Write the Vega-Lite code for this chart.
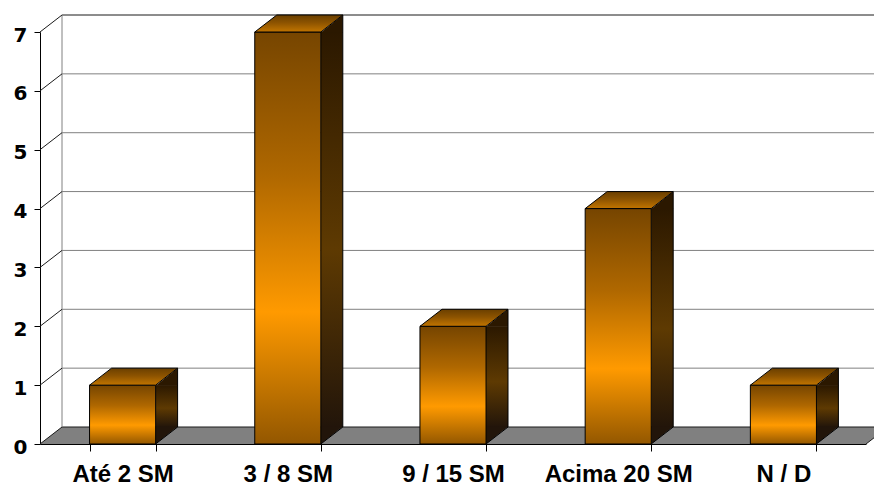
{
  "$schema": "https://vega.github.io/schema/vega-lite/v6.json",
  "width": 826,
  "height": 412,
  "autosize": {"type": "none"},
  "padding": {"left": 40, "top": 32, "right": 8, "bottom": 43},
  "background": "#ffffff",
  "config": {
    "view": {"stroke": null},
    "font": "Liberation Sans",
    "axisX": {
      "title": null, "labelAngle": 0, "domainColor": "#000000", "domainWidth": 1,
      "tickBand": "extent", "tickSize": 7, "tickColor": "#000000", "tickWidth": 1,
      "labelFont": "Liberation Sans", "labelFontWeight": "bold", "labelFontSize": 24,
      "labelColor": "#000000", "labelPadding": 11, "grid": false, "zindex": 1
    },
    "axisY": {
      "title": null, "tickCount": 7,
      "domainColor": "#000000", "domainWidth": 1, "tickColor": "#000000", "tickSize": 6,
      "labelFont": "DejaVu Sans", "labelFontWeight": "bold", "labelFontSize": 20,
      "labelColor": "#000000", "labelPadding": 7, "labelOffset": 3, "grid": false, "zindex": 1
    }
  },
  "datasets": {
    "bars": [
      {"faixa": "Até 2 SM", "n": 1},
      {"faixa": "3 / 8 SM", "n": 7},
      {"faixa": "9 / 15 SM", "n": 2},
      {"faixa": "Acima 20 SM", "n": 4},
      {"faixa": "N / D", "n": 1}
    ],
    "grid": [
      {"v": 0}, {"v": 1}, {"v": 2}, {"v": 3}, {"v": 4}, {"v": 5}, {"v": 6}, {"v": 7}
    ]
  },
  "layer": [
    {
      "data": {"name": "grid"},
      "transform": [{"filter": "datum.v === 0"}],
      "mark": {"type": "rect", "fill": "#808080", "xOffset": 22, "y2Offset": -17, "strokeWidth": 0},
      "encoding": {
        "x": {"value": 0},
        "x2": {"value": "width"},
        "y": {"field": "v", "type": "quantitative", "scale": {"domain": [0, 7], "nice": false}, "axis": {"title": null}},
        "y2": {"field": "v"}
      }
    },
    {
      "data": {"name": "grid"},
      "transform": [{"filter": "datum.v === 0"}],
      "mark": {"type": "point", "shape": "M 0 0 L 22 -17 L 22 0 Z", "size": 4, "filled": true, "fill": "#808080", "strokeWidth": 0, "opacity": 1},
      "encoding": {
        "x": {"value": 0},
        "y": {"field": "v", "type": "quantitative", "scale": {"domain": [0, 7], "nice": false}, "axis": {"title": null}}
      }
    },
    {
      "data": {"name": "grid"},
      "transform": [{"filter": "datum.v === 0"}],
      "mark": {"type": "point", "shape": "M 0 0 L 0 -17 L 22 -17 Z", "size": 4, "filled": true, "fill": "#808080", "strokeWidth": 0, "opacity": 1},
      "encoding": {
        "x": {"value": "width"},
        "y": {"field": "v", "type": "quantitative", "scale": {"domain": [0, 7], "nice": false}, "axis": {"title": null}}
      }
    },
    {
      "data": {"name": "grid"},
      "mark": {"type": "rule", "xOffset": 22, "x2Offset": 22, "yOffset": -17, "strokeWidth": 1},
      "encoding": {
        "x": {"value": 0},
        "x2": {"value": "width"},
        "y": {"field": "v", "type": "quantitative", "scale": {"domain": [0, 7], "nice": false}, "axis": {"title": null}},
        "color": {"condition": {"test": "datum.v === 0 || datum.v === 7", "value": "#1a1a1a"}, "value": "#808080"}
      }
    },
    {
      "data": {"name": "grid"},
      "transform": [{"filter": "datum.v === 0"}],
      "mark": {"type": "rule", "xOffset": 22, "yOffset": -17, "y2Offset": -17, "color": "#808080", "strokeWidth": 1},
      "encoding": {
        "x": {"value": 0},
        "y": {"datum": 0, "type": "quantitative", "scale": {"domain": [0, 7], "nice": false}, "axis": {"title": null}},
        "y2": {"datum": 7}
      }
    },
    {
      "data": {"name": "grid"},
      "mark": {"type": "point", "shape": "M 0 0 L 22 -17", "size": 4, "filled": false, "stroke": "#1a1a1a", "strokeWidth": 1, "opacity": 1},
      "encoding": {
        "x": {"value": 0},
        "y": {"field": "v", "type": "quantitative", "scale": {"domain": [0, 7], "nice": false}, "axis": {"title": null}}
      }
    },
    {
      "data": {"name": "grid"},
      "transform": [{"filter": "datum.v === 0"}],
      "mark": {"type": "point", "shape": "M 0 0 L 22 -17", "size": 4, "filled": false, "stroke": "#1a1a1a", "strokeWidth": 1, "opacity": 1},
      "encoding": {
        "x": {"value": "width"},
        "y": {"field": "v", "type": "quantitative", "scale": {"domain": [0, 7], "nice": false}, "axis": {"title": null}}
      }
    },
    {
      "data": {"name": "bars"},
      "mark": {
        "type": "bar", "width": 22, "xOffset": 44, "y2Offset": -17, "strokeWidth": 0,
        "fill": {"gradient": "linear", "x1": 0, "y1": 0, "x2": 0, "y2": 1,
          "stops": [{"offset": 0, "color": "#2b1800"}, {"offset": 0.55, "color": "#5e3a02"}, {"offset": 1, "color": "#22150a"}]}
      },
      "encoding": {
        "x": {"field": "faixa", "type": "nominal", "sort": null, "scale": {"type": "band", "paddingInner": 0.6, "paddingOuter": 0.3}, "axis": {"title": null}},
        "y": {"field": "n", "type": "quantitative", "scale": {"domain": [0, 7], "nice": false}, "axis": {"title": null}},
        "y2": {"datum": 0}
      }
    },
    {
      "data": {"name": "bars"},
      "mark": {"type": "point", "shape": "M 33 0.5 L 55 -17 L 55 0.5 Z", "size": 4, "filled": true, "fill": "#2b1800", "strokeWidth": 0, "opacity": 1},
      "encoding": {
        "x": {"field": "faixa", "type": "nominal", "sort": null, "scale": {"type": "band", "paddingInner": 0.6, "paddingOuter": 0.3}, "axis": {"title": null}},
        "y": {"field": "n", "type": "quantitative", "scale": {"domain": [0, 7], "nice": false}, "axis": {"title": null}}
      }
    },
    {
      "data": {"name": "bars"},
      "mark": {"type": "point", "shape": "M 33 -17.5 L 55 -17.5 L 33 0 Z", "size": 4, "filled": true, "fill": "#22150a", "strokeWidth": 0, "opacity": 1},
      "encoding": {
        "x": {"field": "faixa", "type": "nominal", "sort": null, "scale": {"type": "band", "paddingInner": 0.6, "paddingOuter": 0.3}, "axis": {"title": null}},
        "y": {"datum": 0, "type": "quantitative", "scale": {"domain": [0, 7], "nice": false}, "axis": {"title": null}}
      }
    },
    {
      "data": {"name": "bars"},
      "mark": {"type": "rule", "xOffset": 55, "yOffset": -17, "y2Offset": -17, "color": "#000000", "strokeWidth": 1},
      "encoding": {
        "x": {"field": "faixa", "type": "nominal", "sort": null, "scale": {"type": "band", "paddingInner": 0.6, "paddingOuter": 0.3}, "axis": {"title": null}},
        "y": {"field": "n", "type": "quantitative", "scale": {"domain": [0, 7], "nice": false}, "axis": {"title": null}},
        "y2": {"datum": 0}
      }
    },
    {
      "data": {"name": "bars"},
      "mark": {"type": "point", "shape": "M 33 0 L 55 -17", "size": 4, "filled": false, "stroke": "#000000", "strokeWidth": 1, "opacity": 1},
      "encoding": {
        "x": {"field": "faixa", "type": "nominal", "sort": null, "scale": {"type": "band", "paddingInner": 0.6, "paddingOuter": 0.3}, "axis": {"title": null}},
        "y": {"datum": 0, "type": "quantitative", "scale": {"domain": [0, 7], "nice": false}, "axis": {"title": null}}
      }
    },
    {
      "data": {"name": "bars"},
      "mark": {
        "type": "bar", "stroke": "#000000", "strokeWidth": 1,
        "fill": {"gradient": "linear", "x1": 0, "y1": 0, "x2": 0, "y2": 1,
          "stops": [{"offset": 0, "color": "#764500"}, {"offset": 0.35, "color": "#b06800"}, {"offset": 0.68, "color": "#ff9a00"}, {"offset": 1, "color": "#935700"}]}
      },
      "encoding": {
        "x": {"field": "faixa", "type": "nominal", "sort": null, "scale": {"type": "band", "paddingInner": 0.6, "paddingOuter": 0.3}, "axis": {"title": null}},
        "y": {"field": "n", "type": "quantitative", "scale": {"domain": [0, 7], "nice": false}, "axis": {"title": null}},
        "y2": {"datum": 0}
      }
    },
    {
      "data": {"name": "bars"},
      "mark": {
        "type": "point", "shape": "M -33 0 L 33 0 L 55 -17 L -11 -17 Z", "size": 4, "filled": true,
        "stroke": "#000000", "strokeWidth": 1, "opacity": 1,
        "fill": {"gradient": "linear", "x1": 0, "y1": 0, "x2": 0, "y2": 1,
          "stops": [{"offset": 0, "color": "#6a3f00"}, {"offset": 0.45, "color": "#8c5300"}, {"offset": 1, "color": "#c27500"}]}
      },
      "encoding": {
        "x": {"field": "faixa", "type": "nominal", "sort": null, "scale": {"type": "band", "paddingInner": 0.6, "paddingOuter": 0.3}, "axis": {"title": null}},
        "y": {"field": "n", "type": "quantitative", "scale": {"domain": [0, 7], "nice": false}, "axis": {"title": null}}
      }
    }
  ]
}
